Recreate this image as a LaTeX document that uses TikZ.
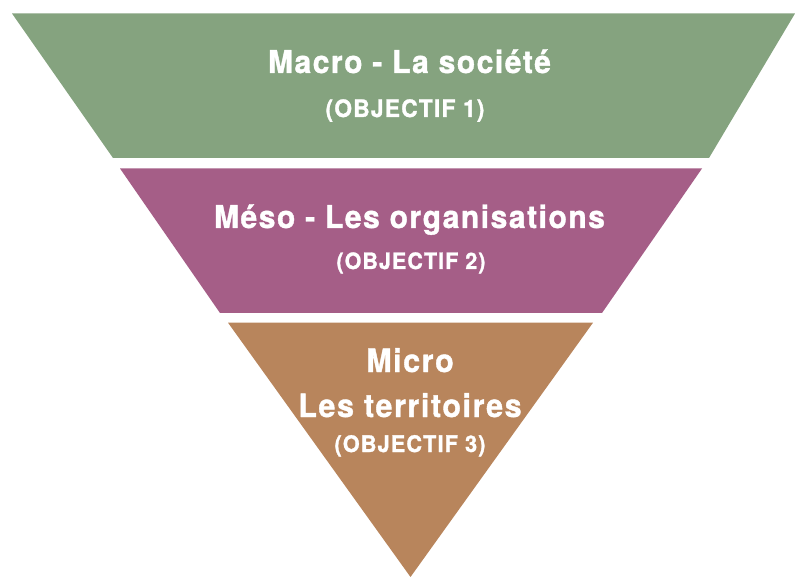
\documentclass[tikz,border=0pt]{standalone}
\usepackage{fontspec}
\setmainfont{TeX Gyre Heros}[FakeStretch=0.95,LetterSpace=5,BoldFeatures={FakeBold=1.2}]
\definecolor{cgreen}{HTML}{85A37F}
\definecolor{cpurple}{HTML}{A55E87}
\definecolor{cbrown}{HTML}{B8855C}
\tikzset{
  big/.style={text=white, font=\bfseries\fontsize{#1}{#1}\selectfont, anchor=base, inner sep=0pt},
}
\begin{document}
\begin{tikzpicture}[x=1pt,y=-1pt]
\useasboundingbox (0,0) rectangle (795,577);
\fill[cgreen] (12,13.5) -- (795,13.5) -- (709,158) -- (113,158) -- cycle;
\fill[cpurple] (120,168.5) -- (702,168.5) -- (602,313) -- (220,313) -- cycle;
\fill[cbrown] (228,322.7) -- (593,322.7) -- (410.5,577) -- cycle;
\node[big=31.5] (t1) at (409.5,73) {Macro - La société};
\node[big=24] (o1) at (405,117) {(OBJECTIF 1)};
\node[big=31.5] (t2) at (409.5,228) {Méso - Les organisations};
\node[big=22.5] (o2) at (411,269) {(OBJECTIF 2)};
\node[big=32] (t3) at (410,372) {Micro};
\node[big=32] (t3b) at (410,417) {Les territoires};
\node[big=22.8] (o3) at (410,452) {(OBJECTIF 3)};
\end{tikzpicture}
\end{document}
